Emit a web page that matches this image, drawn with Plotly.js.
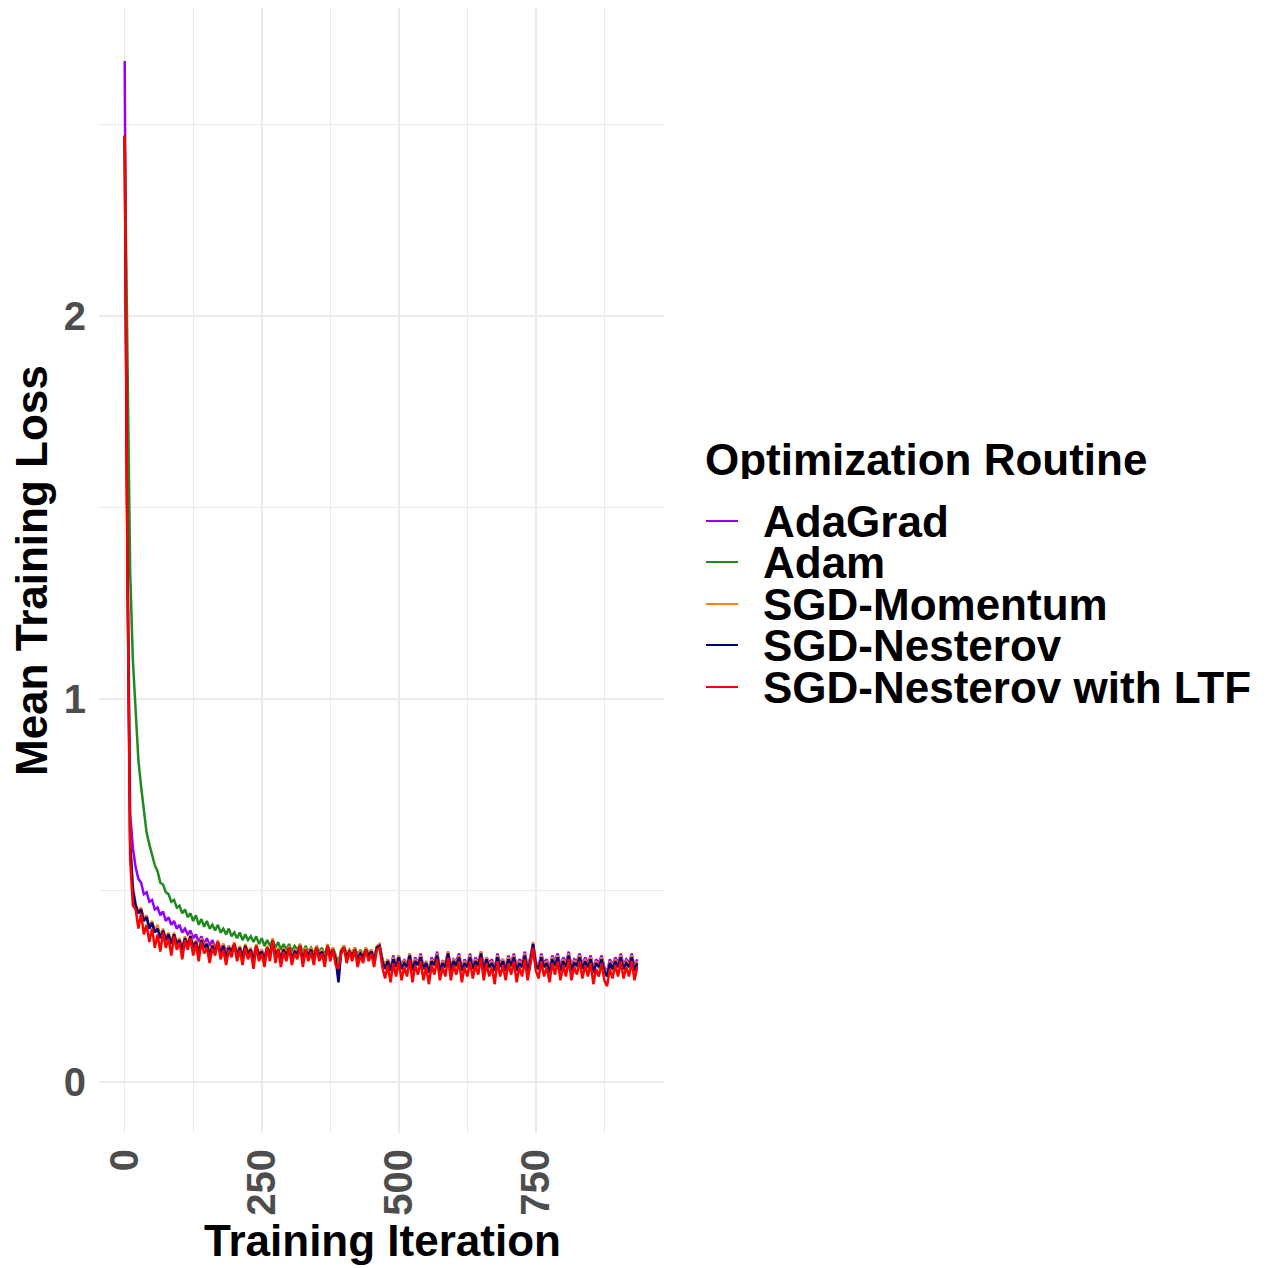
<!DOCTYPE html>
<html>
<head>
<meta charset="utf-8">
<script src="https://cdn.plot.ly/plotly-3.0.1.min.js"></script>
<style>html,body{margin:0;padding:0;background:#fff;}#chart{width:1277px;height:1268px;}</style>
</head>
<body>
<div id="chart"></div>
<script>
// Iteration sampling stride (every 5th training iteration)
const iterStride = 5;

const seriesNames = ["AdaGrad", "Adam", "SGD-Momentum", "SGD-Nesterov", "SGD-Nesterov with LTF"];
const seriesColors = ["#9400ff", "#1f8b1f", "#ff7f0e", "#00007f", "#ff0000"];

const lossAdaGrad = [2.665,1.40,0.70,0.61,0.56,0.53,0.52,0.49,0.495,0.47,0.475,0.45,0.455,0.435,0.445,0.42,0.43,0.41,0.42,0.40,0.41,
0.39,0.40,0.385,0.395,0.375,0.385,0.365,0.38,0.36,0.375,
0.355,0.37,0.35,0.365,0.345,0.36,0.34,0.355,0.34,0.355,
0.335,0.35,0.33,0.355,0.335,0.345,0.325,0.355,0.33,0.345,
0.325,0.35,0.335,0.365,0.33,0.345,0.325,0.35,0.33,0.35,
0.325,0.34,0.335,0.355,0.32,0.345,0.33,0.35,0.325,0.35,
0.33,0.345,0.32,0.355,0.335,0.345,0.325,0.30,0.34,0.355,
0.33,0.345,0.33,0.35,0.325,0.34,0.33,0.345,0.335,0.34,
0.32,0.35,0.355,0.32,0.30,0.32,0.295,0.33,0.305,0.33,
0.30,0.32,0.305,0.335,0.295,0.325,0.31,0.335,0.30,0.315,
0.29,0.325,0.31,0.34,0.295,0.315,0.31,0.34,0.30,0.32,
0.315,0.335,0.295,0.32,0.305,0.335,0.30,0.325,0.31,0.34,
0.30,0.325,0.31,0.32,0.295,0.335,0.31,0.32,0.30,0.33,
0.31,0.335,0.30,0.32,0.31,0.34,0.30,0.325,0.36,0.315,
0.30,0.335,0.31,0.32,0.295,0.33,0.315,0.335,0.30,0.325,
0.31,0.34,0.30,0.32,0.315,0.335,0.305,0.325,0.31,0.33,
0.295,0.32,0.31,0.33,0.30,0.285,0.32,0.305,0.325,0.31,
0.335,0.305,0.32,0.31,0.335,0.30,0.32];

const lossAdam = [2.47,1.95,1.33,1.10,0.95,0.84,0.77,0.71,0.65,0.62,0.59,0.565,0.55,0.52,0.515,0.495,0.49,0.47,0.475,0.455,0.46,
0.44,0.45,0.43,0.44,0.42,0.435,0.41,0.425,0.405,0.42,
0.40,0.41,0.395,0.41,0.39,0.40,0.385,0.40,0.38,0.39,
0.375,0.39,0.37,0.385,0.37,0.38,0.365,0.38,0.36,0.375,
0.355,0.37,0.355,0.37,0.35,0.365,0.345,0.36,0.345,0.36,
0.34,0.355,0.345,0.36,0.335,0.355,0.34,0.35,0.335,0.355,
0.34,0.35,0.33,0.355,0.335,0.35,0.33,0.31,0.345,0.355,
0.33,0.345,0.335,0.35,0.33,0.345,0.33,0.35,0.335,0.345,
0.325,0.35,0.35,0.32,0.30,0.315,0.295,0.325,0.30,0.325,
0.295,0.315,0.30,0.33,0.29,0.315,0.305,0.325,0.295,0.31,
0.29,0.315,0.305,0.325,0.29,0.31,0.30,0.33,0.295,0.315,
0.30,0.32,0.29,0.31,0.30,0.325,0.295,0.315,0.30,0.33,
0.29,0.315,0.30,0.31,0.29,0.32,0.30,0.315,0.29,0.32,
0.30,0.32,0.29,0.31,0.30,0.325,0.29,0.31,0.35,0.30,
0.295,0.32,0.30,0.31,0.285,0.315,0.30,0.32,0.29,0.31,
0.30,0.325,0.29,0.31,0.30,0.32,0.295,0.31,0.30,0.315,
0.285,0.31,0.30,0.315,0.29,0.275,0.305,0.295,0.31,0.30,
0.32,0.295,0.31,0.30,0.32,0.29,0.305];

const lossMomentum = [2.47,1.37,0.63,0.51,0.465,0.445,0.455,0.425,0.435,0.405,0.42,0.395,0.41,0.38,0.40,0.375,0.39,0.365,0.39,0.365,0.375,
0.35,0.38,0.36,0.385,0.355,0.37,0.34,0.375,0.355,0.365,
0.335,0.36,0.345,0.37,0.34,0.36,0.33,0.355,0.345,0.365,
0.335,0.355,0.33,0.36,0.34,0.35,0.32,0.36,0.335,0.345,
0.325,0.355,0.335,0.375,0.33,0.35,0.325,0.35,0.335,0.355,
0.325,0.345,0.34,0.36,0.32,0.35,0.335,0.35,0.325,0.355,
0.335,0.345,0.32,0.36,0.335,0.35,0.325,0.285,0.345,0.355,
0.33,0.345,0.335,0.35,0.325,0.34,0.33,0.35,0.335,0.345,
0.32,0.355,0.36,0.32,0.30,0.32,0.295,0.325,0.305,0.33,
0.30,0.315,0.305,0.335,0.295,0.32,0.31,0.33,0.30,0.315,
0.29,0.32,0.31,0.335,0.295,0.315,0.305,0.34,0.295,0.32,
0.31,0.33,0.295,0.315,0.305,0.33,0.30,0.32,0.31,0.34,
0.295,0.325,0.305,0.315,0.295,0.33,0.305,0.32,0.295,0.325,
0.31,0.33,0.295,0.315,0.305,0.335,0.295,0.32,0.365,0.31,
0.30,0.33,0.305,0.315,0.29,0.325,0.31,0.33,0.295,0.32,
0.305,0.335,0.295,0.315,0.31,0.33,0.30,0.32,0.305,0.325,
0.29,0.315,0.305,0.325,0.295,0.28,0.315,0.30,0.32,0.305,
0.33,0.30,0.315,0.305,0.33,0.295,0.315];

const lossNesterov = [2.47,1.36,0.62,0.50,0.46,0.44,0.45,0.42,0.43,0.40,0.415,0.39,0.40,0.375,0.395,0.37,0.385,0.36,0.385,0.36,0.37,
0.345,0.375,0.355,0.38,0.35,0.365,0.335,0.37,0.35,0.36,
0.33,0.355,0.34,0.365,0.335,0.355,0.325,0.35,0.34,0.36,
0.33,0.35,0.325,0.355,0.335,0.345,0.315,0.355,0.33,0.34,
0.32,0.35,0.33,0.37,0.325,0.345,0.32,0.345,0.33,0.35,
0.32,0.34,0.335,0.355,0.315,0.345,0.33,0.345,0.32,0.35,
0.33,0.34,0.315,0.355,0.33,0.345,0.32,0.26,0.34,0.35,
0.325,0.34,0.33,0.345,0.32,0.335,0.325,0.345,0.33,0.34,
0.315,0.35,0.355,0.315,0.295,0.315,0.29,0.32,0.30,0.325,
0.295,0.31,0.30,0.33,0.29,0.315,0.305,0.325,0.295,0.31,
0.285,0.315,0.305,0.33,0.29,0.31,0.30,0.335,0.29,0.315,
0.305,0.325,0.29,0.31,0.30,0.325,0.295,0.315,0.305,0.335,
0.29,0.32,0.30,0.31,0.29,0.325,0.30,0.315,0.29,0.32,
0.305,0.325,0.29,0.31,0.30,0.33,0.29,0.315,0.36,0.305,
0.295,0.325,0.30,0.31,0.285,0.32,0.305,0.325,0.29,0.315,
0.30,0.33,0.29,0.31,0.305,0.325,0.295,0.315,0.30,0.32,
0.285,0.31,0.30,0.32,0.29,0.275,0.31,0.295,0.315,0.30,
0.325,0.295,0.31,0.30,0.325,0.29,0.31];

const lossNesterovLTF = [2.47,1.35,0.58,0.46,0.45,0.40,0.44,0.385,0.41,0.365,0.40,0.35,0.385,0.34,0.39,0.35,0.375,0.33,0.38,0.345,0.365,
0.32,0.37,0.345,0.375,0.33,0.36,0.315,0.365,0.335,0.35,
0.31,0.35,0.33,0.365,0.32,0.345,0.305,0.345,0.325,0.36,
0.315,0.345,0.305,0.35,0.32,0.34,0.295,0.355,0.315,0.335,
0.30,0.35,0.315,0.37,0.31,0.345,0.30,0.34,0.315,0.35,
0.305,0.335,0.32,0.355,0.30,0.345,0.315,0.34,0.305,0.35,
0.315,0.335,0.30,0.355,0.315,0.345,0.305,0.295,0.335,0.35,
0.31,0.34,0.315,0.345,0.30,0.33,0.31,0.345,0.315,0.335,
0.30,0.345,0.35,0.30,0.27,0.305,0.26,0.31,0.275,0.315,
0.265,0.30,0.275,0.32,0.26,0.305,0.28,0.315,0.265,0.30,
0.255,0.305,0.28,0.32,0.265,0.30,0.275,0.325,0.265,0.305,
0.28,0.315,0.26,0.30,0.275,0.315,0.27,0.305,0.28,0.325,
0.265,0.31,0.275,0.30,0.255,0.315,0.275,0.305,0.265,0.31,
0.28,0.315,0.26,0.30,0.275,0.32,0.265,0.305,0.35,0.29,
0.27,0.315,0.275,0.30,0.26,0.31,0.28,0.315,0.265,0.305,
0.275,0.32,0.265,0.30,0.28,0.315,0.27,0.305,0.275,0.31,
0.255,0.295,0.275,0.31,0.265,0.25,0.295,0.27,0.305,0.275,
0.315,0.27,0.30,0.275,0.315,0.265,0.30];

const xTickVals = [0, 250, 500, 750];
const yTickVals = [0, 1, 2];

const seriesValues = [lossAdaGrad, lossAdam, lossMomentum, lossNesterov, lossNesterovLTF];

const traces = seriesValues.map((vals, k) => ({
  type: "scatter",
  mode: "lines",
  name: seriesNames[k],
  x: vals.map((_, i) => i * iterStride),
  y: vals,
  line: { color: seriesColors[k], width: 2.5 },
  showlegend: false,
  hoverinfo: "skip"
}));

// pixel -> paper helpers (plot area: x 99..664, y 8..1133)
const L = 99, R = 664, T = 8, B = 1133;
const px = v => (v - L) / (R - L);
const py = v => (B - v) / (B - T);

const fontFam = "Liberation Sans, Arial, Helvetica, sans-serif";
const annotations = [];
const shapes = [];

annotations.push({
  xref: "paper", yref: "paper", x: px(382), y: py(1240), xanchor: "center", yanchor: "middle",
  text: "<b>Training Iteration</b>", showarrow: false, font: { family: fontFam, size: 44, color: "#000" }
});
annotations.push({
  xref: "paper", yref: "paper", x: px(31), y: py(571), xanchor: "center", yanchor: "middle",
  text: "<b>Mean Training Loss</b>", textangle: -90, showarrow: false, font: { family: fontFam, size: 44, color: "#000" }
});
annotations.push({
  xref: "paper", yref: "paper", x: px(703), y: py(459), xanchor: "left", yanchor: "middle", height: 40,
  text: "<b>Optimization Routine</b>", showarrow: false, font: { family: fontFam, size: 44, color: "#000" }
});
const legendY = [521, 562, 604, 645, 687];
seriesNames.forEach((n, k) => {
  annotations.push({
    xref: "paper", yref: "paper", x: px(761), y: py(legendY[k]), xanchor: "left", yanchor: "middle", height: 40,
    text: "<b>" + n + "</b>", showarrow: false, font: { family: fontFam, size: 44, color: "#000" }
  });
  shapes.push({
    type: "line", xref: "paper", yref: "paper",
    x0: px(706), x1: px(738), y0: py(legendY[k]), y1: py(legendY[k]),
    line: { color: seriesColors[k], width: 2 }
  });
});

const layout = {
  width: 1277, height: 1268,
  margin: { l: L, r: 1277 - R, t: T, b: 1268 - B, pad: 0 },
  paper_bgcolor: "#ffffff", plot_bgcolor: "#ffffff",
  showlegend: false,
  xaxis: {
    range: [-46.85, 983.85], tickvals: xTickVals, ticktext: xTickVals.map(String),
    tickangle: -90, ticks: "", showline: false, zeroline: false,
    showgrid: true, gridcolor: "#ebebeb", gridwidth: 1.6,
    minor: { dtick: 125, tick0: 0, showgrid: true, gridcolor: "#ebebeb", gridwidth: 1 },
    tickfont: { family: fontFam, size: 40, color: "#4d4d4d", weight: "bold" },
    ticklabelstandoff: 7, automargin: false
  },
  yaxis: {
    range: [-0.1335, 2.8035], tickvals: yTickVals, ticktext: yTickVals.map(String),
    ticks: "", showline: false, zeroline: false,
    showgrid: true, gridcolor: "#ebebeb", gridwidth: 1.6,
    minor: { dtick: 0.5, tick0: 0, showgrid: true, gridcolor: "#ebebeb", gridwidth: 1 },
    tickfont: { family: fontFam, size: 40, color: "#4d4d4d", weight: "bold" },
    ticklabelstandoff: 12, automargin: false
  },
  annotations: annotations,
  shapes: shapes
};

Plotly.newPlot("chart", traces, layout, { displayModeBar: false, staticPlot: true });
</script>
</body>
</html>
